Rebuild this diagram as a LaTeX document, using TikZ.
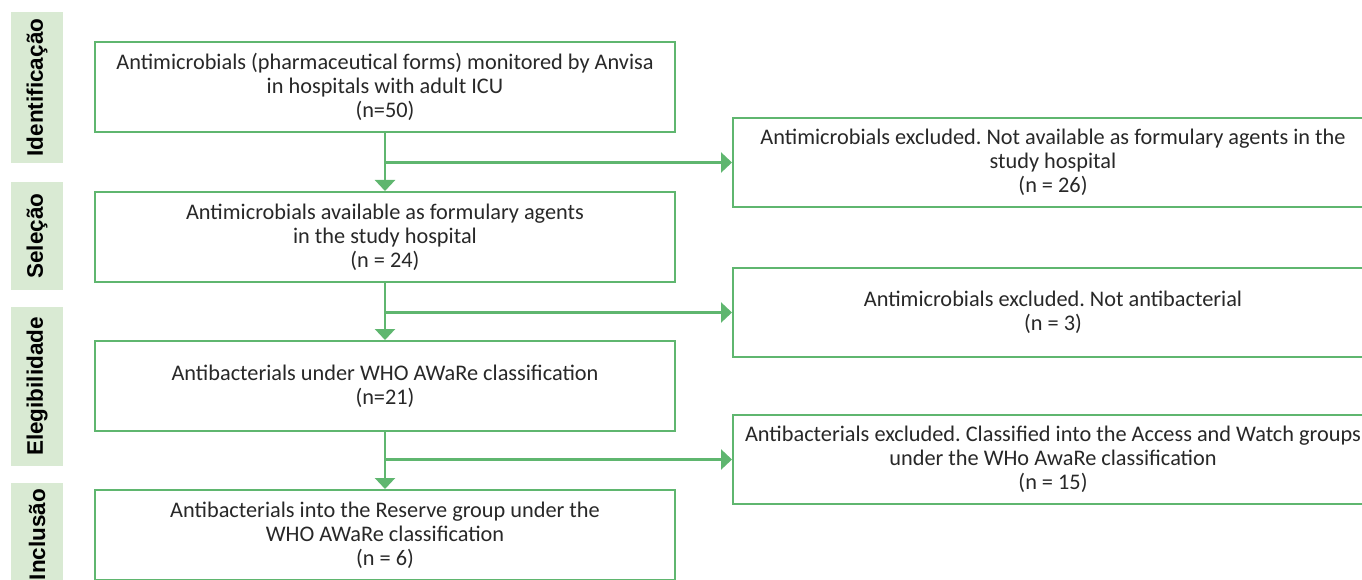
\documentclass[tikz,border=0pt]{standalone}
\usepackage{fontspec}
\setmainfont{Carlito}
\newfontfamily\labelfont{Liberation Sans}
\usetikzlibrary{arrows.meta}
\definecolor{flowgreen}{RGB}{95,182,111}
\definecolor{labelgreen}{RGB}{217,234,211}
\definecolor{txt}{RGB}{40,40,40}
\frenchspacing
\begin{document}
\begin{tikzpicture}[x=1pt,y=-1pt,
  box/.style={draw=flowgreen, line width=2pt, fill=white, align=center,
    font=\frenchspacing\fontsize{22.3}{24}\selectfont, text=txt, inner sep=0pt,
    minimum height=90pt},
  leftbox/.style={box, minimum width=580pt},
  rightbox/.style={box, minimum width=640pt, minimum height=89pt},
  stage/.style={fill=labelgreen, rotate=90, minimum height=52pt, inner sep=0pt,
    font=\labelfont\bfseries\fontsize{22.5}{26}\selectfont, text=black},
  conn/.style={draw=flowgreen, line width=2.5pt, -{Triangle[width=20pt,length=11pt]}}
]
\useasboundingbox (0,0) rectangle (1362,580);
\clip (0,0) rectangle (1362,580);

% stage labels
\node[stage, minimum width=151pt] (s1) at (37,87.5) {Identificação};
\node[stage, minimum width=108pt] (s2) at (37,236) {Seleção};
\node[stage, minimum width=159pt] (s3) at (37,386.5) {Elegibilidade};
\node[stage, minimum width=103pt] (s4) at (37,534.5) {Inclusão};

% left column
\node[leftbox] (b1) at (385,87) {Antimicrobials (pharmaceutical forms) monitored by Anvisa\\in hospitals with adult ICU\\(n=50)};
\node[leftbox] (b2) at (385,237) {Antimicrobials available as formulary agents\\in the study hospital\\(n = 24)};
\node[leftbox] (b3) at (385,386) {Antibacterials under WHO AWaRe classification\\(n=21)};
\node[leftbox] (b4) at (385,535) {Antibacterials into the Reserve group under the\\WHO AWaRe classification\\(n = 6)};

% right column
\node[rightbox] (r1) at (1053,162.5) {Antimicrobials excluded. Not available as formulary agents in the\\study hospital\\(n = 26)};
\node[rightbox] (r2) at (1053,312.5) {Antimicrobials excluded. Not antibacterial\\(n = 3)};
\node[rightbox] (r3) at (1053,459.5) {Antibacterials excluded. Classified into the Access and Watch groups\\under the WHo AwaRe classification\\(n = 15)};

% connectors
\draw[conn] (b1.south) -- (b2.north);
\draw[conn] (b1.south |- r1.west) -- (r1.west);
\draw[conn] (b2.south) -- (b3.north);
\draw[conn] (b2.south |- r2.west) -- (r2.west);
\draw[conn] (b3.south) -- (b4.north);
\draw[conn] (b3.south |- r3.west) -- (r3.west);
\end{tikzpicture}
\end{document}
